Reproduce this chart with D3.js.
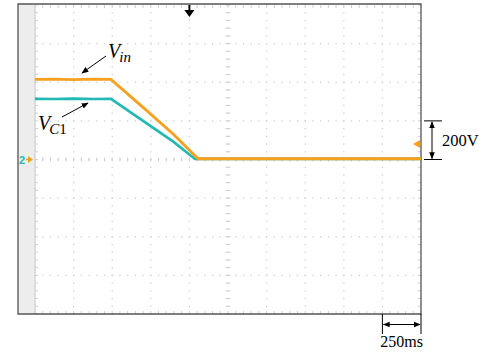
<!DOCTYPE html>
<html><head><meta charset="utf-8">
<script src="https://cdn.jsdelivr.net/npm/d3@7"></script>
<style>body{margin:0;background:#fff}svg{display:block}</style>
</head><body>
<svg id="c" width="486" height="353"></svg>
<script>
// Data (time in ms, voltage in V)
const vinTime = [0, 120, 250, 380, 492, 700, 900, 1056, 1500, 2000, 2500];
const vinVals = [415, 416, 414, 416, 415, 270, 128, 4, 4, 4, 4];
const vc1Time = [0, 120, 250, 380, 492, 700, 900, 1036, 1500, 2000, 2500];
const vc1Vals = [314, 313, 315, 313, 314, 200, 90, 3, 3, 3, 3];
const timeScaleLabel = "250ms";
const voltScaleLabel = "200V";
const xDivs = d3.range(0, 2501, 250);
const yDivs = d3.range(-800, 801, 200);

const svg = d3.select("#c");
const L = 35, R = 421, T = 5, B = 314;
const x = d3.scaleLinear().domain([0, 2500]).range([L, R]);
const y = d3.scaleLinear().domain([-800, 800]).range([B, T]);
const orange = "#F5A01E", cyan = "#22B8B4", grid = "#cfcfcf";

// grey strip and frame
svg.append("rect").attr("x", 18).attr("y", T - 1).attr("width", L - 18).attr("height", B - T + 1).attr("fill", "#ededed");
// dotted grid
const minor = 50, minorV = 40;
const g = svg.append("g");
xDivs.slice(1, -1).forEach(t => {
  d3.range(-800, 801, minorV).forEach(v => {
    g.append("rect").attr("x", x(t) - 0.6).attr("y", y(v) - 0.6).attr("width", 1.3).attr("height", 1.3).attr("fill", grid);
  });
});
yDivs.slice(1, -1).forEach(v => {
  d3.range(0, 2501, minor).forEach(t => {
    g.append("rect").attr("x", x(t) - 0.6).attr("y", y(v) - 0.6).attr("width", 1.3).attr("height", 1.3).attr("fill", grid);
  });
});
// minor ticks along edges and center lines
d3.range(0, 2501, minor).forEach(t => {
  g.append("line").attr("x1", x(t)).attr("x2", x(t)).attr("y1", T).attr("y2", T + 3).attr("stroke", grid);
  g.append("line").attr("x1", x(t)).attr("x2", x(t)).attr("y1", B - 3).attr("y2", B).attr("stroke", grid);
  g.append("line").attr("x1", x(t)).attr("x2", x(t)).attr("y1", y(0) - 2).attr("y2", y(0) + 2).attr("stroke", grid);
});
d3.range(-800, 801, minorV).forEach(v => {
  g.append("line").attr("x1", L).attr("x2", L + 3).attr("y1", y(v)).attr("y2", y(v)).attr("stroke", grid);
  g.append("line").attr("x1", R - 3).attr("x2", R).attr("y1", y(v)).attr("y2", y(v)).attr("stroke", grid);
  g.append("line").attr("x1", x(1250) - 2.5).attr("x2", x(1250) + 2.5).attr("y1", y(v)).attr("y2", y(v)).attr("stroke", grid);
});
svg.append("line").attr("x1", L).attr("x2", L).attr("y1", T).attr("y2", B).attr("stroke", "#d4d4d4").attr("stroke-width", 1.5);
svg.append("path").attr("d", `M18,${T - 1}H${R}V${B}H18Z`).attr("fill", "none").attr("stroke", "#555").attr("stroke-width", 1.3);

// traces
const line = d3.line().x(d => x(d[0])).y(d => y(d[1]));
svg.append("path").datum(d3.zip(vc1Time, vc1Vals)).attr("d", line).attr("fill", "none").attr("stroke", cyan).attr("stroke-width", 2.6);
svg.append("path").datum(d3.zip(vinTime, vinVals)).attr("d", line).attr("fill", "none").attr("stroke", orange).attr("stroke-width", 2.8);

// markers
svg.append("text").attr("x", 19).attr("y", y(0) + 4.5).attr("font-family", "Liberation Sans").attr("font-weight", "bold").attr("font-size", 11).attr("fill", cyan).text("2");
svg.append("path").attr("d", `M28,${y(0) - 3.5}L33,${y(0)}L28,${y(0) + 3.5}Z`).attr("fill", orange);
svg.append("line").attr("x1", 26).attr("x2", 30).attr("y1", y(0)).attr("y2", y(0)).attr("stroke", orange).attr("stroke-width", 1.5);
const ym = y(80);
svg.append("path").attr("d", `M${R - 1},${ym - 4}L${R - 8},${ym}L${R - 1},${ym + 4}Z`).attr("fill", orange);
svg.append("line").attr("x1", R - 4).attr("x2", R).attr("y1", ym).attr("y2", ym).attr("stroke", orange).attr("stroke-width", 1.5);
const xt = x(1000);
svg.append("line").attr("x1", xt).attr("x2", xt).attr("y1", T).attr("y2", T + 9).attr("stroke", "#000").attr("stroke-width", 2);
svg.append("path").attr("d", `M${xt - 5},${T + 5}L${xt + 5},${T + 5}L${xt},${T + 12}Z`).attr("fill", "#000");

// arrow marker
const defs = svg.append("defs");
defs.append("marker").attr("id", "ah").attr("viewBox", "0 0 10 10").attr("refX", 9).attr("refY", 5)
  .attr("markerWidth", 7).attr("markerHeight", 7).attr("markerUnits", "userSpaceOnUse").attr("orient", "auto-start-reverse")
  .append("path").attr("d", "M0,1L10,5L0,9Z").attr("fill", "#000");

// labels
const lab = (xx, yy, main, sub, subUpright) => {
  const t = svg.append("text").attr("x", xx).attr("y", yy).attr("font-family", "Liberation Serif").attr("font-style", "italic").attr("font-size", 20).attr("fill", "#000");
  t.append("tspan").text(main);
  t.append("tspan").attr("font-size", 15).attr("dy", 4).attr("dx", -1).text(sub);
  if (subUpright) t.append("tspan").attr("font-size", 15).attr("font-style", "normal").text(subUpright);
};
lab(108, 58, "V", "in");
svg.append("line").attr("x1", 106).attr("y1", 56).attr("x2", 82).attr("y2", 73).attr("stroke", "#000").attr("stroke-width", 1).attr("marker-end", "url(#ah)");
lab(38, 130, "V", "C", "1");
svg.append("line").attr("x1", 62).attr("y1", 117).attr("x2", 88).attr("y2", 103).attr("stroke", "#000").attr("stroke-width", 1).attr("marker-end", "url(#ah)");

// voltage scale bar
const y200 = y(200), y0 = y(0);
svg.append("line").attr("x1", 424).attr("x2", 442).attr("y1", y200).attr("y2", y200).attr("stroke", "#000");
svg.append("line").attr("x1", 424).attr("x2", 442).attr("y1", y0).attr("y2", y0).attr("stroke", "#000");
svg.append("line").attr("x1", 432).attr("x2", 432).attr("y1", y200 + 1).attr("y2", y0 - 1).attr("stroke", "#000")
  .attr("marker-end", "url(#ah)").attr("marker-start", "url(#ah)");
svg.append("text").attr("x", 442).attr("y", y(100) + 5.5).attr("font-family", "Liberation Serif").attr("font-size", 16.5).attr("fill", "#000").text(voltScaleLabel);

// time scale bar
const xa = x(2250), xb = x(2500);
svg.append("line").attr("x1", xa).attr("x2", xa).attr("y1", B).attr("y2", 334).attr("stroke", "#000");
svg.append("line").attr("x1", xb).attr("x2", xb).attr("y1", B).attr("y2", 334).attr("stroke", "#000");
svg.append("line").attr("x1", xa + 1).attr("x2", xb - 1).attr("y1", 324.5).attr("y2", 324.5).attr("stroke", "#000")
  .attr("marker-end", "url(#ah)").attr("marker-start", "url(#ah)");
svg.append("text").attr("x", (xa + xb) / 2).attr("y", 347).attr("text-anchor", "middle").attr("font-family", "Liberation Serif").attr("font-size", 16).attr("fill", "#000").text(timeScaleLabel);
</script>
</body></html>
